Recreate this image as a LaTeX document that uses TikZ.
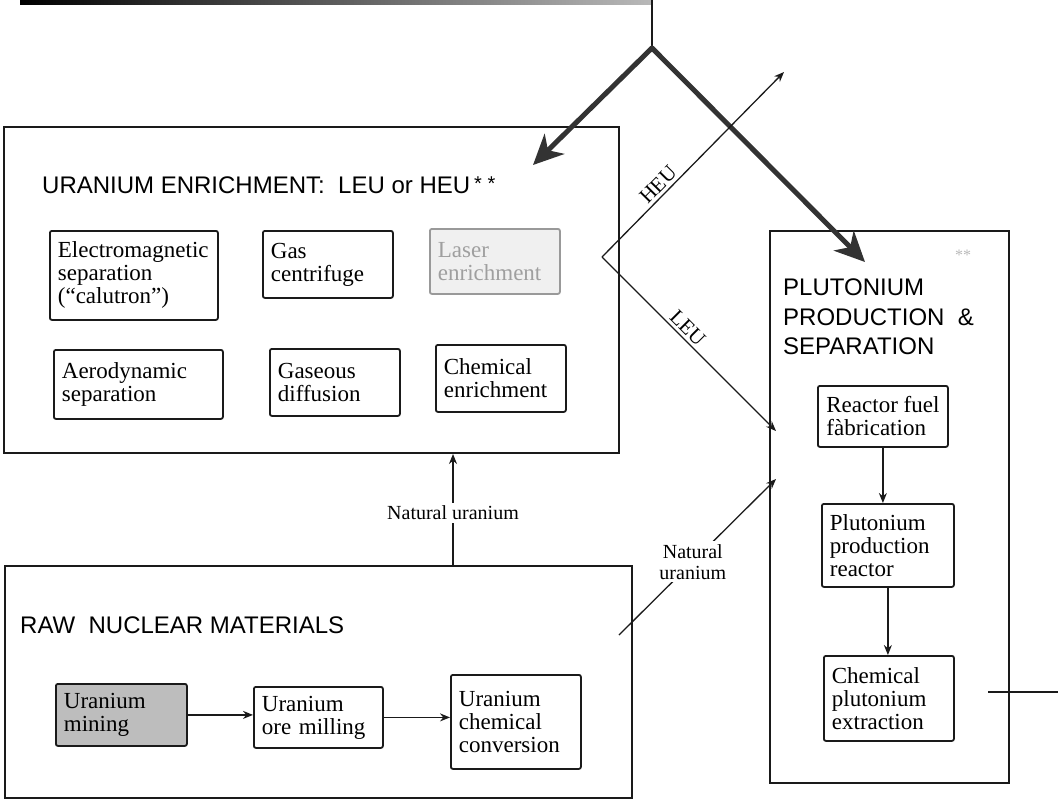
\documentclass[tikz,border=0pt]{standalone}
\usepackage{fontspec}
\setmainfont{Liberation Serif}
\setsansfont{Liberation Sans}
\usepackage{tikz}
\usetikzlibrary{arrows.meta, positioning, calc}
\definecolor{inkdark}{HTML}{1A1A1A}
\definecolor{routegray}{HTML}{333333}
\definecolor{minefill}{HTML}{BDBDBD}
\tikzset{
  % Group frames
  groupbox/.style={
    rectangle, draw=inkdark, line width=2pt, anchor=north west, inner sep=0pt,
  },
  % Process boxes
  procbox/.style={
    rectangle, rounded corners=2pt, draw=inkdark, line width=1.8pt,
    anchor=north west, align=left, inner xsep=8pt, inner ysep=3pt,
    font=\fontsize{23}{23}\selectfont, text=black,
  },
  % Group titles
  grouptitle/.style={
    font=\sffamily\fontsize{24}{29.5}\selectfont, anchor=west, align=left, inner sep=0pt,
  },
  % Arrows
  flowarrow/.style={-{Stealth[length=10pt, width=8pt]}, line width=1.3pt, draw=inkdark},
  routearrow/.style={-{Stealth[length=30pt, width=28pt, inset=9pt]}, line width=5pt, draw=routegray, line cap=round},
  % Labels on arrows
  arrlabel/.style={font=\fontsize{20}{21}\selectfont, fill=white, inner sep=3pt, align=center},
  pathlabel/.style={font=\fontsize{21}{21}\selectfont, inner sep=3pt},
}

\begin{document}
\begin{tikzpicture}[x=1pt, y=-1pt]
  \useasboundingbox (0,0) rectangle (1058,801);

  % Cut-off frame at the top
  \shade[left color=black, right color=gray!55] (20,0) rectangle (652,4);

  % Uranium enrichment
  \node[groupbox, minimum width=615pt, minimum height=326pt] (enr) at (3,126) {};
  \node[grouptitle] (enrtitle) at (42,185)
    {URANIUM ENRICHMENT:\ \ LEU or HEU\,\raisebox{3pt}{\fontsize{20}{20}\selectfont* *}};

  \node[procbox, minimum width=168pt, minimum height=89pt, text width=152pt] (emsep) at (49,230)
    {Electromagnetic\\separation\\(``calutron'')};
  \node[procbox, minimum width=130pt, minimum height=67pt, text width=114pt] (gascent) at (262,230)
    {Gas\\centrifuge};
  \node[procbox, minimum width=130pt, minimum height=65pt, text width=114pt,
        fill=gray!12, draw=gray!80, text=gray!75] (laser) at (429,228)
    {Laser\\enrichment};
  \node[procbox, minimum width=169pt, minimum height=69pt, text width=153pt] (aero) at (53,349)
    {Aerodynamic\\separation};
  \node[procbox, minimum width=130pt, minimum height=67pt, text width=114pt] (gasdiff) at (269,348)
    {Gaseous\\diffusion};
  \node[procbox, minimum width=130pt, minimum height=67pt, text width=114pt] (chemenr) at (435,344)
    {Chemical\\enrichment};

  % Raw nuclear materials
  \node[groupbox, minimum width=627pt, minimum height=232pt] (raw) at (4,565) {};
  \node[grouptitle] (rawtitle) at (20,625) {RAW\ \ NUCLEAR MATERIALS};

  \node[procbox, fill=minefill, minimum width=131pt, minimum height=62pt, text width=115pt] (mining) at (55,683)
    {Uranium\\mining};
  \node[procbox, minimum width=129pt, minimum height=61pt, text width=113pt] (milling) at (253,686)
    {Uranium\\ore milling};
  \node[procbox, minimum width=130pt, minimum height=94pt, text width=114pt] (conv) at (450,674)
    {Uranium\\chemical\\conversion};

  % Plutonium production & separation
  \node[groupbox, minimum width=239pt, minimum height=552pt] (pu) at (769,230) {};
  \node[grouptitle] (putitle) at (783,317) {PLUTONIUM\\PRODUCTION\ \ \&\\SEPARATION};
  \node[font=\fontsize{16}{16}\selectfont, text=gray!55, inner sep=0pt] (pustar) at (963,255) {**};

  \node[procbox, minimum width=130pt, minimum height=61pt, inner xsep=7pt] (fuelfab) at (817,385)
    {Reactor fuel\\fàbrication};
  \node[procbox, minimum width=132pt, minimum height=83pt, text width=116pt] (pureact) at (821,503)
    {Plutonium\\production\\reactor};
  \node[procbox, minimum width=130pt, minimum height=85pt, text width=114pt] (puext) at (823,655)
    {Chemical\\plutonium\\extraction};

  % Connector end points
  \coordinate (topend) at (652,0);
  \coordinate (apex) at (652,48);
  \coordinate (enrin) at (533,165);
  \coordinate (puin) at (865,262);
  \coordinate (split) at (602,257);
  \coordinate (heuout) at (784,72);
  \coordinate (leuin) at (776,431);
  \coordinate (natup) at (453,565);
  \coordinate (natside) at (619,635);
  \coordinate (natin) at (776,479);
  \coordinate (outstart) at (988,692);
  \coordinate (outend) at (1058,692);

  % Arrows
  \draw[line width=2.5pt, draw=inkdark] (topend) -- (apex);
  \draw[routearrow] (apex) -- (enrin);
  \draw[routearrow] (apex) -- (puin);

  \draw[flowarrow] (split) -- (heuout) node[pathlabel, pos=0.35, sloped, above] {HEU};
  \draw[flowarrow] (split) -- (leuin) node[pathlabel, pos=0.45, sloped, above] {LEU};

  \draw[flowarrow] (natup) -- (natup |- enr.south) node[arrlabel, pos=0.47] {Natural uranium};
  \draw[flowarrow] (natside) -- (natin) node[arrlabel, pos=0.47] {Natural\\uranium};

  \draw[flowarrow] (mining) -- (mining -| milling.west);
  \draw[flowarrow] (milling) -- (milling -| conv.west);

  \draw[flowarrow] (fuelfab) -- (fuelfab |- pureact.north);
  \draw[flowarrow] (pureact) -- (pureact |- puext.north);
  \draw[line width=1.3pt, draw=inkdark] (outstart) -- (outend);

\end{tikzpicture}
\end{document}
